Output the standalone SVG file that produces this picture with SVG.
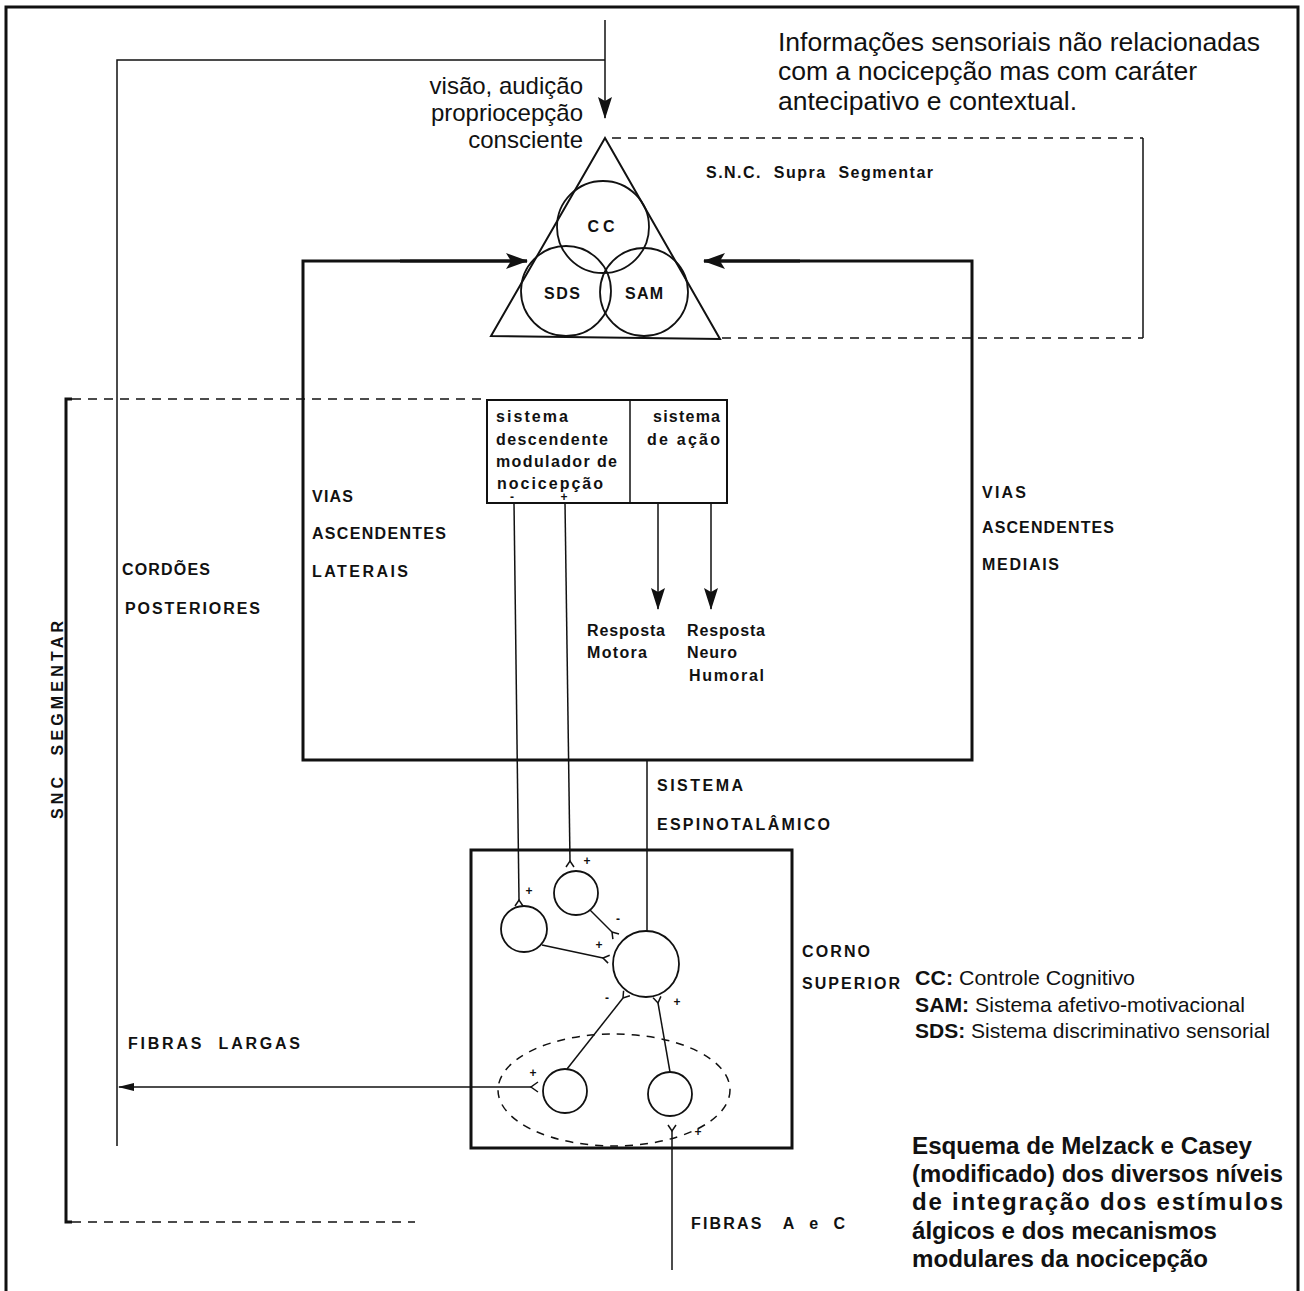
<svg xmlns="http://www.w3.org/2000/svg" width="1304" height="1291" viewBox="0 0 1304 1291">
<defs>
<style>
.ln{stroke:#111;fill:none;stroke-width:1.5}
.thk{stroke:#111;fill:none;stroke-width:3}
.dsh{stroke:#111;fill:none;stroke-width:1.5;stroke-dasharray:9 7}
.circ{stroke:#111;fill:none;stroke-width:1.8}
.lab{font-family:"Liberation Sans",Arial,sans-serif;font-weight:bold;font-size:16px;fill:#111}
.reg{font-family:"Liberation Sans",Arial,sans-serif;font-size:24px;fill:#111}
.big{font-family:"Liberation Sans",Arial,sans-serif;font-size:26.5px;fill:#111}
.leg{font-family:"Liberation Sans",Arial,sans-serif;font-size:21px;fill:#111}
.cap{font-family:"Liberation Sans",Arial,sans-serif;font-weight:bold;font-size:24px;fill:#111}
.sg{font-family:"Liberation Sans",Arial,sans-serif;font-weight:bold;font-size:12px;fill:#111;text-anchor:middle}
</style>
<marker id="ahT" viewBox="0 0 22 16" refX="21" refY="8" markerWidth="22" markerHeight="16" markerUnits="userSpaceOnUse" orient="auto"><path d="M0,0 L22,8 L0,16 L5,8 Z" fill="#111"/></marker>
<marker id="ahM" viewBox="0 0 22 14" refX="21" refY="7" markerWidth="22" markerHeight="14" markerUnits="userSpaceOnUse" orient="auto"><path d="M0,0 L22,7 L0,14 L4,7 Z" fill="#111"/></marker>
<marker id="ahS" viewBox="0 0 16 8" refX="15" refY="4" markerWidth="16" markerHeight="8" markerUnits="userSpaceOnUse" orient="auto"><path d="M0,0 L16,4 L0,8 Z" fill="#111"/></marker>
</defs>
<rect width="1304" height="1291" fill="#fff"/>

<!-- outer frame -->
<path class="thk" d="M6,1291 V7 H1298 V1291" stroke-width="2.5"/>

<g id="connectors">
  <line class="ln" x1="605" y1="20" x2="605" y2="118" stroke-width="2.5" marker-end="url(#ahM)"/>
  <path class="ln" d="M605,60 H117 V1146"/>
  <path class="thk" d="M527,261 H303 V760 H972 V261 H704"/>
  <line class="thk" x1="400" y1="261" x2="527" y2="261" marker-end="url(#ahT)"/>
  <line class="thk" x1="800" y1="261" x2="704" y2="261" marker-end="url(#ahT)"/>
  <line class="dsh" x1="612" y1="138" x2="1143" y2="138"/>
  <line class="dsh" x1="722" y1="338" x2="1143" y2="338"/>
  <line class="ln" x1="1143" y1="138" x2="1143" y2="338" stroke-width="2"/>
  <path class="thk" d="M72,399 H66 V1222 H72"/>
  <line class="dsh" x1="72" y1="399" x2="487" y2="399"/>
  <line class="dsh" x1="72" y1="1222" x2="415" y2="1222"/>
  <line class="ln" x1="514" y1="503" x2="519" y2="900"/>
  <line class="ln" x1="565" y1="503" x2="570" y2="861"/>
  <line class="ln" x1="658" y1="503" x2="658" y2="609" stroke-width="2" marker-end="url(#ahM)"/>
  <line class="ln" x1="711" y1="503" x2="711" y2="609" stroke-width="2" marker-end="url(#ahM)"/>
  <line class="ln" x1="647" y1="760" x2="647" y2="931"/>
  <line class="ln" x1="531" y1="1087" x2="119" y2="1087" marker-end="url(#ahS)"/>
  <line class="ln" x1="672" y1="1131" x2="672" y2="1270"/>
  <line class="ln" x1="590" y1="910" x2="612" y2="932"/>
  <line class="ln" x1="542" y1="945" x2="603" y2="958"/>
  <line class="ln" x1="567" y1="1069" x2="623" y2="998"/>
  <line class="ln" x1="670" y1="1072" x2="658" y2="1003"/>
  <path class="ln" d="M515,906 L519,900 L523,906"/>
  <path class="ln" d="M566,867 L570,861 L574,867"/>
  <path class="ln" d="M612.9,939.2 L612,932 L619,934"/>
  <path class="ln" d="M608.1,963.1 L603,958 L609.7,955.3"/>
  <path class="ln" d="M629.9,995.8 L623,998 L623.6,990.8"/>
  <path class="ln" d="M660.9,996.4 L658,1003 L653.1,997.8"/>
  <path class="ln" d="M668,1125 L672,1131 L676,1125"/>
  <path class="ln" d="M538,1082 L531,1087 L538,1092"/>
</g>

<g id="supra-segmentar">
  <path d="M605,138 L491,336 L720,339 Z" fill="none" stroke="#111" stroke-width="2"/>
  <circle class="circ" cx="603" cy="227" r="46"/>
  <circle class="circ" cx="566" cy="291" r="45"/>
  <circle class="circ" cx="644" cy="292" r="44"/>
  <text class="lab" x="601" y="232" text-anchor="middle" textLength="27" lengthAdjust="spacing">CC</text>
  <text class="lab" x="562" y="299" text-anchor="middle" textLength="36" lengthAdjust="spacing">SDS</text>
  <text class="lab" x="644" y="299" text-anchor="middle" textLength="38" lengthAdjust="spacing">SAM</text>
  <text class="lab" x="706" y="178" font-size="15" textLength="227" lengthAdjust="spacing" xml:space="preserve">S.N.C.  Supra  Segmentar</text>
</g>

<g id="sensory-input">
  <text class="reg" x="583" y="94" text-anchor="end">visão, audição</text>
  <text class="reg" x="583" y="121" text-anchor="end">propriocepção</text>
  <text class="reg" x="583" y="148" text-anchor="end">consciente</text>
</g>

<g id="info-note">
  <text class="big" x="778" y="51" textLength="482" lengthAdjust="spacingAndGlyphs">Informações sensoriais não relacionadas</text>
  <text class="big" x="778" y="80" textLength="419" lengthAdjust="spacingAndGlyphs">com a nocicepção mas com caráter</text>
  <text class="big" x="778" y="110">antecipativo e contextual.</text>
</g>

<g id="modulation-box">
  <rect x="487" y="400" width="240" height="103" fill="none" stroke="#111" stroke-width="2"/>
  <line class="ln" x1="630" y1="400" x2="630" y2="503" stroke-width="2"/>
  <text class="lab" x="496" y="422" textLength="72" lengthAdjust="spacing">sistema</text>
  <text class="lab" x="496" y="445" textLength="112" lengthAdjust="spacing">descendente</text>
  <text class="lab" x="496" y="467" textLength="121" lengthAdjust="spacing">modulador de</text>
  <text class="lab" x="497" y="489" textLength="106" lengthAdjust="spacing">nocicepção</text>
  <text class="lab" x="653" y="422" textLength="67" lengthAdjust="spacing">sistema</text>
  <text class="lab" x="647" y="445" textLength="73" lengthAdjust="spacing" xml:space="preserve">de ação</text>
  <text class="sg" x="512" y="501">-</text>
  <text class="sg" x="564" y="501">+</text>
</g>

<g id="responses">
  <text class="lab" x="587" y="636" textLength="78" lengthAdjust="spacing">Resposta</text>
  <text class="lab" x="587" y="658" textLength="60" lengthAdjust="spacing">Motora</text>
  <text class="lab" x="687" y="636" textLength="78" lengthAdjust="spacing">Resposta</text>
  <text class="lab" x="687" y="658" textLength="50" lengthAdjust="spacing">Neuro</text>
  <text class="lab" x="689" y="681" textLength="75" lengthAdjust="spacing">Humoral</text>
</g>

<g id="pathway-labels">
  <text class="lab" x="312" y="502" textLength="41" lengthAdjust="spacing">VIAS</text>
  <text class="lab" x="312" y="539" textLength="134" lengthAdjust="spacing">ASCENDENTES</text>
  <text class="lab" x="312" y="577" textLength="96" lengthAdjust="spacing">LATERAIS</text>
  <text class="lab" x="982" y="498" textLength="44" lengthAdjust="spacing">VIAS</text>
  <text class="lab" x="982" y="533" textLength="132" lengthAdjust="spacing">ASCENDENTES</text>
  <text class="lab" x="982" y="570" textLength="77" lengthAdjust="spacing">MEDIAIS</text>
  <text class="lab" x="122" y="575" textLength="88" lengthAdjust="spacing">CORDÕES</text>
  <text class="lab" x="125" y="614" textLength="135" lengthAdjust="spacing">POSTERIORES</text>
  <text class="lab" x="657" y="791" textLength="86" lengthAdjust="spacing">SISTEMA</text>
  <text class="lab" x="657" y="830" textLength="173" lengthAdjust="spacing">ESPINOTALÂMICO</text>
  <text class="lab" x="128" y="1049" textLength="172" lengthAdjust="spacing" xml:space="preserve">FIBRAS  LARGAS</text>
  <text class="lab" x="691" y="1229" textLength="154" lengthAdjust="spacing" xml:space="preserve">FIBRAS   A  e  C</text>
  <text class="lab" transform="translate(63,819) rotate(-90)" textLength="198" lengthAdjust="spacing" xml:space="preserve">SNC  SEGMENTAR</text>
</g>

<g id="dorsal-horn">
  <rect x="471" y="850" width="321" height="298" fill="none" stroke="#111" stroke-width="3"/>
  <circle class="circ" cx="576" cy="893" r="22"/>
  <circle class="circ" cx="524" cy="929" r="23"/>
  <circle class="circ" cx="646" cy="964" r="33"/>
  <circle class="circ" cx="565" cy="1091" r="22"/>
  <circle class="circ" cx="670" cy="1094" r="22"/>
  <ellipse cx="614" cy="1090" rx="116" ry="56" fill="none" stroke="#111" stroke-width="1.5" stroke-dasharray="8 7"/>
  <text class="sg" x="529" y="895">+</text>
  <text class="sg" x="587" y="865">+</text>
  <text class="sg" x="618" y="923">-</text>
  <text class="sg" x="599" y="949">+</text>
  <text class="sg" x="607" y="1002">-</text>
  <text class="sg" x="677" y="1006">+</text>
  <text class="sg" x="533" y="1077">+</text>
  <text class="sg" x="698" y="1136">+</text>
  <text class="lab" x="802" y="957" textLength="68" lengthAdjust="spacing">CORNO</text>
  <text class="lab" x="802" y="989" textLength="98" lengthAdjust="spacing">SUPERIOR</text>
</g>

<g id="legend">
  <text class="leg" x="915" y="985" textLength="220" lengthAdjust="spacingAndGlyphs"><tspan font-weight="bold">CC:</tspan> Controle Cognitivo</text>
  <text class="leg" x="915" y="1012" textLength="330" lengthAdjust="spacingAndGlyphs"><tspan font-weight="bold">SAM:</tspan> Sistema afetivo-motivacional</text>
  <text class="leg" x="915" y="1038" textLength="355" lengthAdjust="spacingAndGlyphs"><tspan font-weight="bold">SDS:</tspan> Sistema discriminativo sensorial</text>
</g>

<g id="caption">
  <text class="cap" x="912" y="1154" textLength="340" lengthAdjust="spacingAndGlyphs">Esquema de Melzack e Casey</text>
  <text class="cap" x="912" y="1182" textLength="371" lengthAdjust="spacingAndGlyphs">(modificado) dos diversos níveis</text>
  <text class="cap" x="912" y="1210" textLength="371" lengthAdjust="spacing">de integração dos estímulos</text>
  <text class="cap" x="912" y="1239" textLength="305" lengthAdjust="spacingAndGlyphs">álgicos e dos mecanismos</text>
  <text class="cap" x="912" y="1267" textLength="296" lengthAdjust="spacingAndGlyphs">modulares da nocicepção</text>
</g>
</svg>
